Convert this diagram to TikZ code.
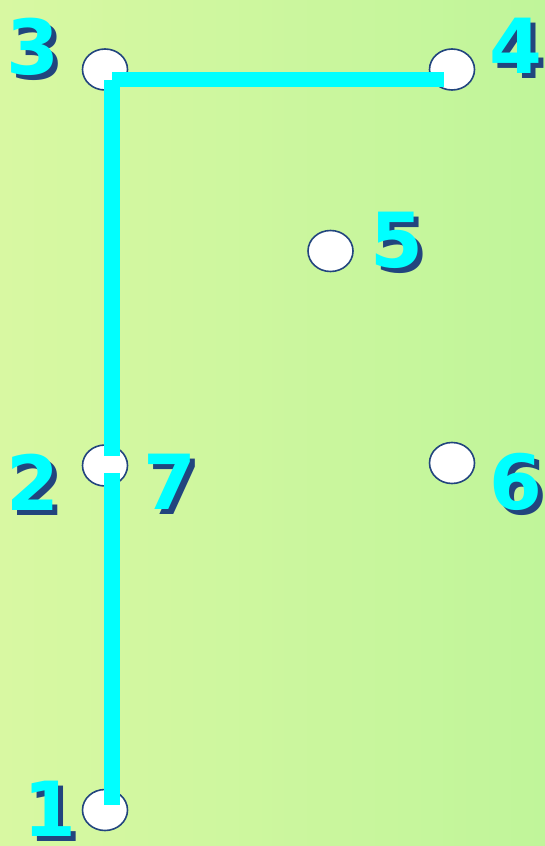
\documentclass[tikz,border=0pt]{standalone}
\usepackage{fontspec}
\newfontfamily\numfont{DejaVu Sans}[BoldFont={DejaVu Sans Bold}]
\definecolor{bgleft}{HTML}{D8F8A2}
\definecolor{bgright}{HTML}{C0F59A}
\definecolor{navy}{HTML}{22457E}
\definecolor{aqua}{HTML}{00FFFF}
\tikzset{
  pt/.style={ellipse, draw=navy, line width=1.6pt, fill=white, minimum width=45pt, minimum height=41pt, inner sep=0pt},
  wire/.style={draw=aqua, line width=15.5pt, line cap=butt},
  lbl/.style={inner sep=0pt, font=\numfont\bfseries\fontsize{76}{76}\selectfont},
}
\usetikzlibrary{shapes.geometric}
\newcommand{\numlabel}[3]{%
  \node[lbl, text=navy] at ($(#1)+(5pt,-5pt)$) {#3};
  \node[lbl, text=aqua] (#2) at (#1) {#3};}
\usetikzlibrary{calc}
\begin{document}
\begin{tikzpicture}[x=1pt,y=-1pt]
  \shade[left color=bgleft, right color=bgright] (0,0) rectangle (545,846);
  \useasboundingbox (0,0) rectangle (545,846);
  % points
  \node[pt] (p3) at (105,69.5) {};
  \node[pt] (p4) at (452,69.5) {};
  \node[pt] (p5) at (330.5,251) {};
  \node[pt] (p2) at (105,465.5) {};
  \node[pt] (p6) at (452,463) {};
  \node[pt] (p1) at (105,810) {};
  % wire end coordinates
  \coordinate (a3) at (112,79.5);
  \coordinate (a4) at (444,79.5);
  \coordinate (a2) at (112,456);
  \coordinate (b2) at (112,473);
  \coordinate (a1) at (112,805);
  \draw[wire] (a3) -- (a4);
  \draw[wire] (a3) -- (a2);
  \draw[wire] (b2) -- (a1);
  % labels
  \coordinate (c3) at (32.5,47);
  \coordinate (c4) at (516,46);
  \coordinate (c5) at (397,240);
  \coordinate (c6) at (516,482);
  \coordinate (c2) at (33,482);
  \coordinate (c7) at (170,482);
  \coordinate (c1) at (50,809);
  \numlabel{c3}{l3}{3}
  \numlabel{c4}{l4}{4}
  \numlabel{c5}{l5}{5}
  \numlabel{c6}{l6}{6}
  \numlabel{c2}{l2}{2}
  \numlabel{c7}{l7}{7}
  \numlabel{c1}{l1}{1}
\end{tikzpicture}
\end{document}
